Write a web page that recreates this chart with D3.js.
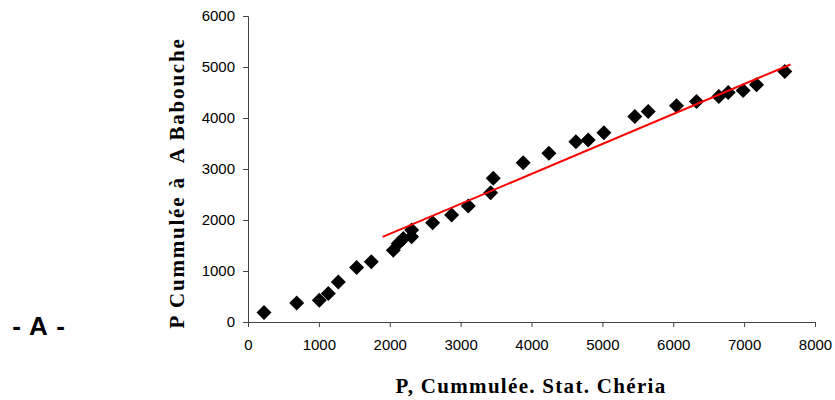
<!DOCTYPE html>
<html>
<head>
<meta charset="utf-8">
<script src="https://cdn.jsdelivr.net/npm/d3@7"></script>
<style>
  body { margin: 0; background: #fff; }
  .tick text { font-family: "Liberation Sans", Arial, sans-serif; font-size: 15px; fill: #000; }
  .axis path, .axis line { stroke: #444; }
</style>
</head>
<body>
<script>
// cumulative precipitation, Chéria station (x) vs A Babouche (y)
var cheria   = [226, 687, 1006, 1133, 1274, 1533, 1740, 2050, 2120, 2191, 2309, 2309, 2605, 2873, 3108, 3423, 3460, 3883, 4245, 4626, 4800, 5021, 5458, 5646, 6046, 6328, 6643, 6775, 6986, 7175, 7574];
var babouche = [185, 373, 426, 558, 786, 1069, 1180, 1409, 1540, 1638, 1670, 1802, 1945, 2096, 2273, 2535, 2817, 3124, 3308, 3536, 3570, 3713, 4028, 4126, 4238, 4322, 4420, 4499, 4538, 4650, 4912];

// trend line
var trendX = [1900, 7654];
var trendY = [1670, 5049];

var xTicks = [0, 1000, 2000, 3000, 4000, 5000, 6000, 7000, 8000];
var yTicks = [0, 1000, 2000, 3000, 4000, 5000, 6000];

var width = 835, height = 400;
var margin = {top: 16, right: 20, bottom: 78, left: 248};

var svg = d3.select("body").append("svg")
    .attr("width", width)
    .attr("height", height);

var x = d3.scaleLinear().domain([0, 8000]).range([margin.left, 815]);
var y = d3.scaleLinear().domain([0, 6000]).range([322, margin.top]);

svg.append("g")
    .attr("class", "axis")
    .attr("transform", "translate(0,322)")
    .call(d3.axisBottom(x).tickValues(xTicks).tickSize(5).tickPadding(12).tickFormat(d3.format("d")));

svg.append("g")
    .attr("class", "axis")
    .attr("transform", "translate(" + margin.left + ",0)")
    .call(d3.axisLeft(y).tickValues(yTicks).tickSize(5).tickPadding(8).tickFormat(d3.format("d")));

// diamonds
var pts = cheria.map(function(d, i) { return [d, babouche[i]]; });
var r = 7.5;
svg.append("g").selectAll("path")
    .data(pts)
  .enter().append("path")
    .attr("d", function(d) {
      var cx = x(d[0]), cy = y(d[1]);
      return "M" + cx + "," + (cy - r) + "L" + (cx + r) + "," + cy + "L" + cx + "," + (cy + r) + "L" + (cx - r) + "," + cy + "Z";
    })
    .attr("fill", "#000");

svg.append("line")
    .attr("x1", x(trendX[0])).attr("y1", y(trendY[0]))
    .attr("x2", x(trendX[1])).attr("y2", y(trendY[1]))
    .attr("stroke", "#ff0000")
    .attr("stroke-width", 2);

svg.append("text")
    .attr("x", 531).attr("y", 393)
    .attr("text-anchor", "middle")
    .style("font-family", "'Liberation Serif', 'Times New Roman', serif")
    .style("font-weight", "bold")
    .style("font-size", "21px")
    .style("letter-spacing", "1.3px")
    .text("P, Cummulée. Stat. Chéria");

svg.append("text")
    .attr("transform", "translate(184,183) rotate(-90)")
    .attr("text-anchor", "middle")
    .style("font-family", "'Liberation Serif', 'Times New Roman', serif")
    .style("font-weight", "bold")
    .style("font-size", "21px")
    .style("letter-spacing", "1.8px")
    .style("white-space", "pre")
    .text("P Cummulée à  A Babouche");

svg.append("text")
    .attr("x", 39).attr("y", 335)
    .attr("text-anchor", "middle")
    .style("font-family", "'Liberation Sans', Arial, sans-serif")
    .style("font-weight", "bold")
    .style("font-size", "26px")
    .style("letter-spacing", "1px")
    .style("white-space", "pre")
    .text("- A -");
</script>
</body>
</html>
